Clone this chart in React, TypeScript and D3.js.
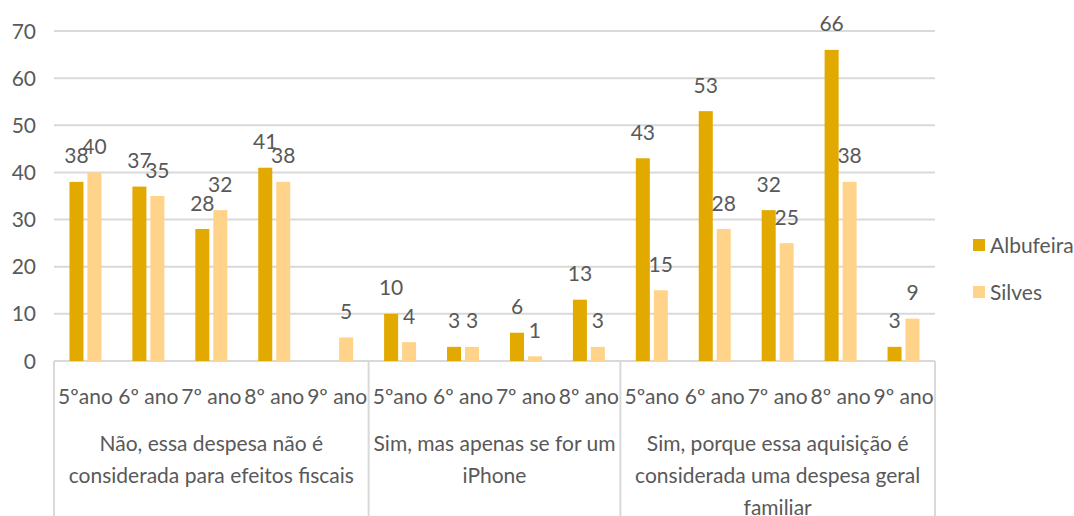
import React from 'react';
import * as d3 from 'd3';

// values
const seriesNames = ['Albufeira', 'Silves'];
const seriesColors = ['#E2A900', '#FFD38A'];

const groupLabels = [
  ['Não, essa despesa não é', 'considerada para efeitos fiscais'],
  ['Sim, mas apenas se for um', 'iPhone'],
  ['Sim, porque essa aquisição é', 'considerada uma despesa geral', 'familiar'],
];
const groupCategories = [
  ['5ºano', '6º ano', '7º ano', '8º ano', '9º ano'],
  ['5ºano', '6º ano', '7º ano', '8º ano'],
  ['5ºano', '6º ano', '7º ano', '8º ano', '9º ano'],
];
const albufeira = [38, 37, 28, 41, null, 10, 3, 6, 13, 43, 53, 32, 66, 3];
const silves = [40, 35, 32, 38, 5, 4, 3, 1, 3, 15, 28, 25, 38, 9];
const yTicks = [0, 10, 20, 30, 40, 50, 60, 70];

const W = 1074;
const H = 516;
const margin = { top: 31, right: 139, bottom: 155, left: 54 };
const FONT = 'Lato, "Open Sans", sans-serif';
const TEXT = '#595959';
const GRID = '#D9D9D9';

export default function App() {
  const plotW = W - margin.left - margin.right;
  const plotH = H - margin.top - margin.bottom;

  // flat category list, each with its group index
  const cats = groupCategories.flatMap((g, gi) => g.map((c, ci) => ({ key: gi + '-' + ci, label: c, group: gi })));

  const x0 = d3.scaleBand<string>()
    .domain(cats.map((c) => c.key))
    .range([margin.left, margin.left + plotW])
    .padding(0);

  const x1 = d3.scaleBand<string>()
    .domain(seriesNames)
    .range([0, x0.bandwidth()])
    .paddingInner(0.22)
    .paddingOuter(0.86);

  const y = d3.scaleLinear().domain([0, 70]).range([margin.top + plotH, margin.top]);

  const values = [albufeira, silves];

  // group boundaries
  let acc = 0;
  const bounds = [x0.range()[0]];
  const groupCenters: number[] = [];
  groupCategories.forEach((g, gi) => {
    const first = x0(cats[acc].key)!;
    acc += g.length;
    const last = x0(cats[acc - 1].key)! + x0.bandwidth();
    bounds.push(last);
    groupCenters.push((first + last) / 2);
  });

  const y0 = y(0);

  return (
    <svg width={W} height={H} style={{ position: 'absolute', left: 0, top: 0, background: '#fff' }} fontFamily={FONT}>
      {/* gridlines */}
      {yTicks.map((t) => (
        <g key={t}>
          <line x1={margin.left} x2={margin.left + plotW} y1={y(t)} y2={y(t)} stroke={GRID} strokeWidth={2} />
          <text x={36} y={y(t)} dy="0.36em" textAnchor="end" fontSize={21} fill={TEXT}>{t}</text>
        </g>
      ))}

      {/* group separators of the category axis */}
      {bounds.map((b, i) => (
        <line key={i} x1={b} x2={b} y1={y0} y2={H} stroke={GRID} strokeWidth={2} />
      ))}

      {/* bars */}
      {cats.map((c, i) => (
        <g key={c.key} transform={`translate(${x0(c.key)},0)`}>
          {seriesNames.map((s, si) => {
            const v = values[si][i];
            if (v == null) return null;
            const bx = x1(s)!;
            return (
              <g key={s}>
                <rect x={bx} y={y(v)} width={x1.bandwidth()} height={y0 - y(v)} fill={seriesColors[si]} />
                <text x={bx + x1.bandwidth() / 2} y={y(v) - 26} dy="0.36em" textAnchor="middle" fontSize={21} fill={TEXT}>{v}</text>
              </g>
            );
          })}
          <text x={x0.bandwidth() / 2} y={396} dy="0.36em" textAnchor="middle" fontSize={21} fill={TEXT}>{c.label}</text>
        </g>
      ))}

      {/* group labels */}
      {groupLabels.map((lines, gi) => (
        <text key={gi} x={groupCenters[gi]} textAnchor="middle" fontSize={21} fill={TEXT}>
          {lines.map((l, li) => (
            <tspan key={li} x={groupCenters[gi]} y={443 + li * 32} dy="0.36em">{l}</tspan>
          ))}
        </text>
      ))}

      {/* legend */}
      {seriesNames.map((s, si) => (
        <g key={s} transform={`translate(973,${245 + si * 47})`}>
          <rect x={0} y={-6} width={12} height={12} fill={seriesColors[si]} />
          <text x={17} y={0} dy="0.36em" fontSize={21} fill={TEXT}>{s}</text>
        </g>
      ))}
    </svg>
  );
}
